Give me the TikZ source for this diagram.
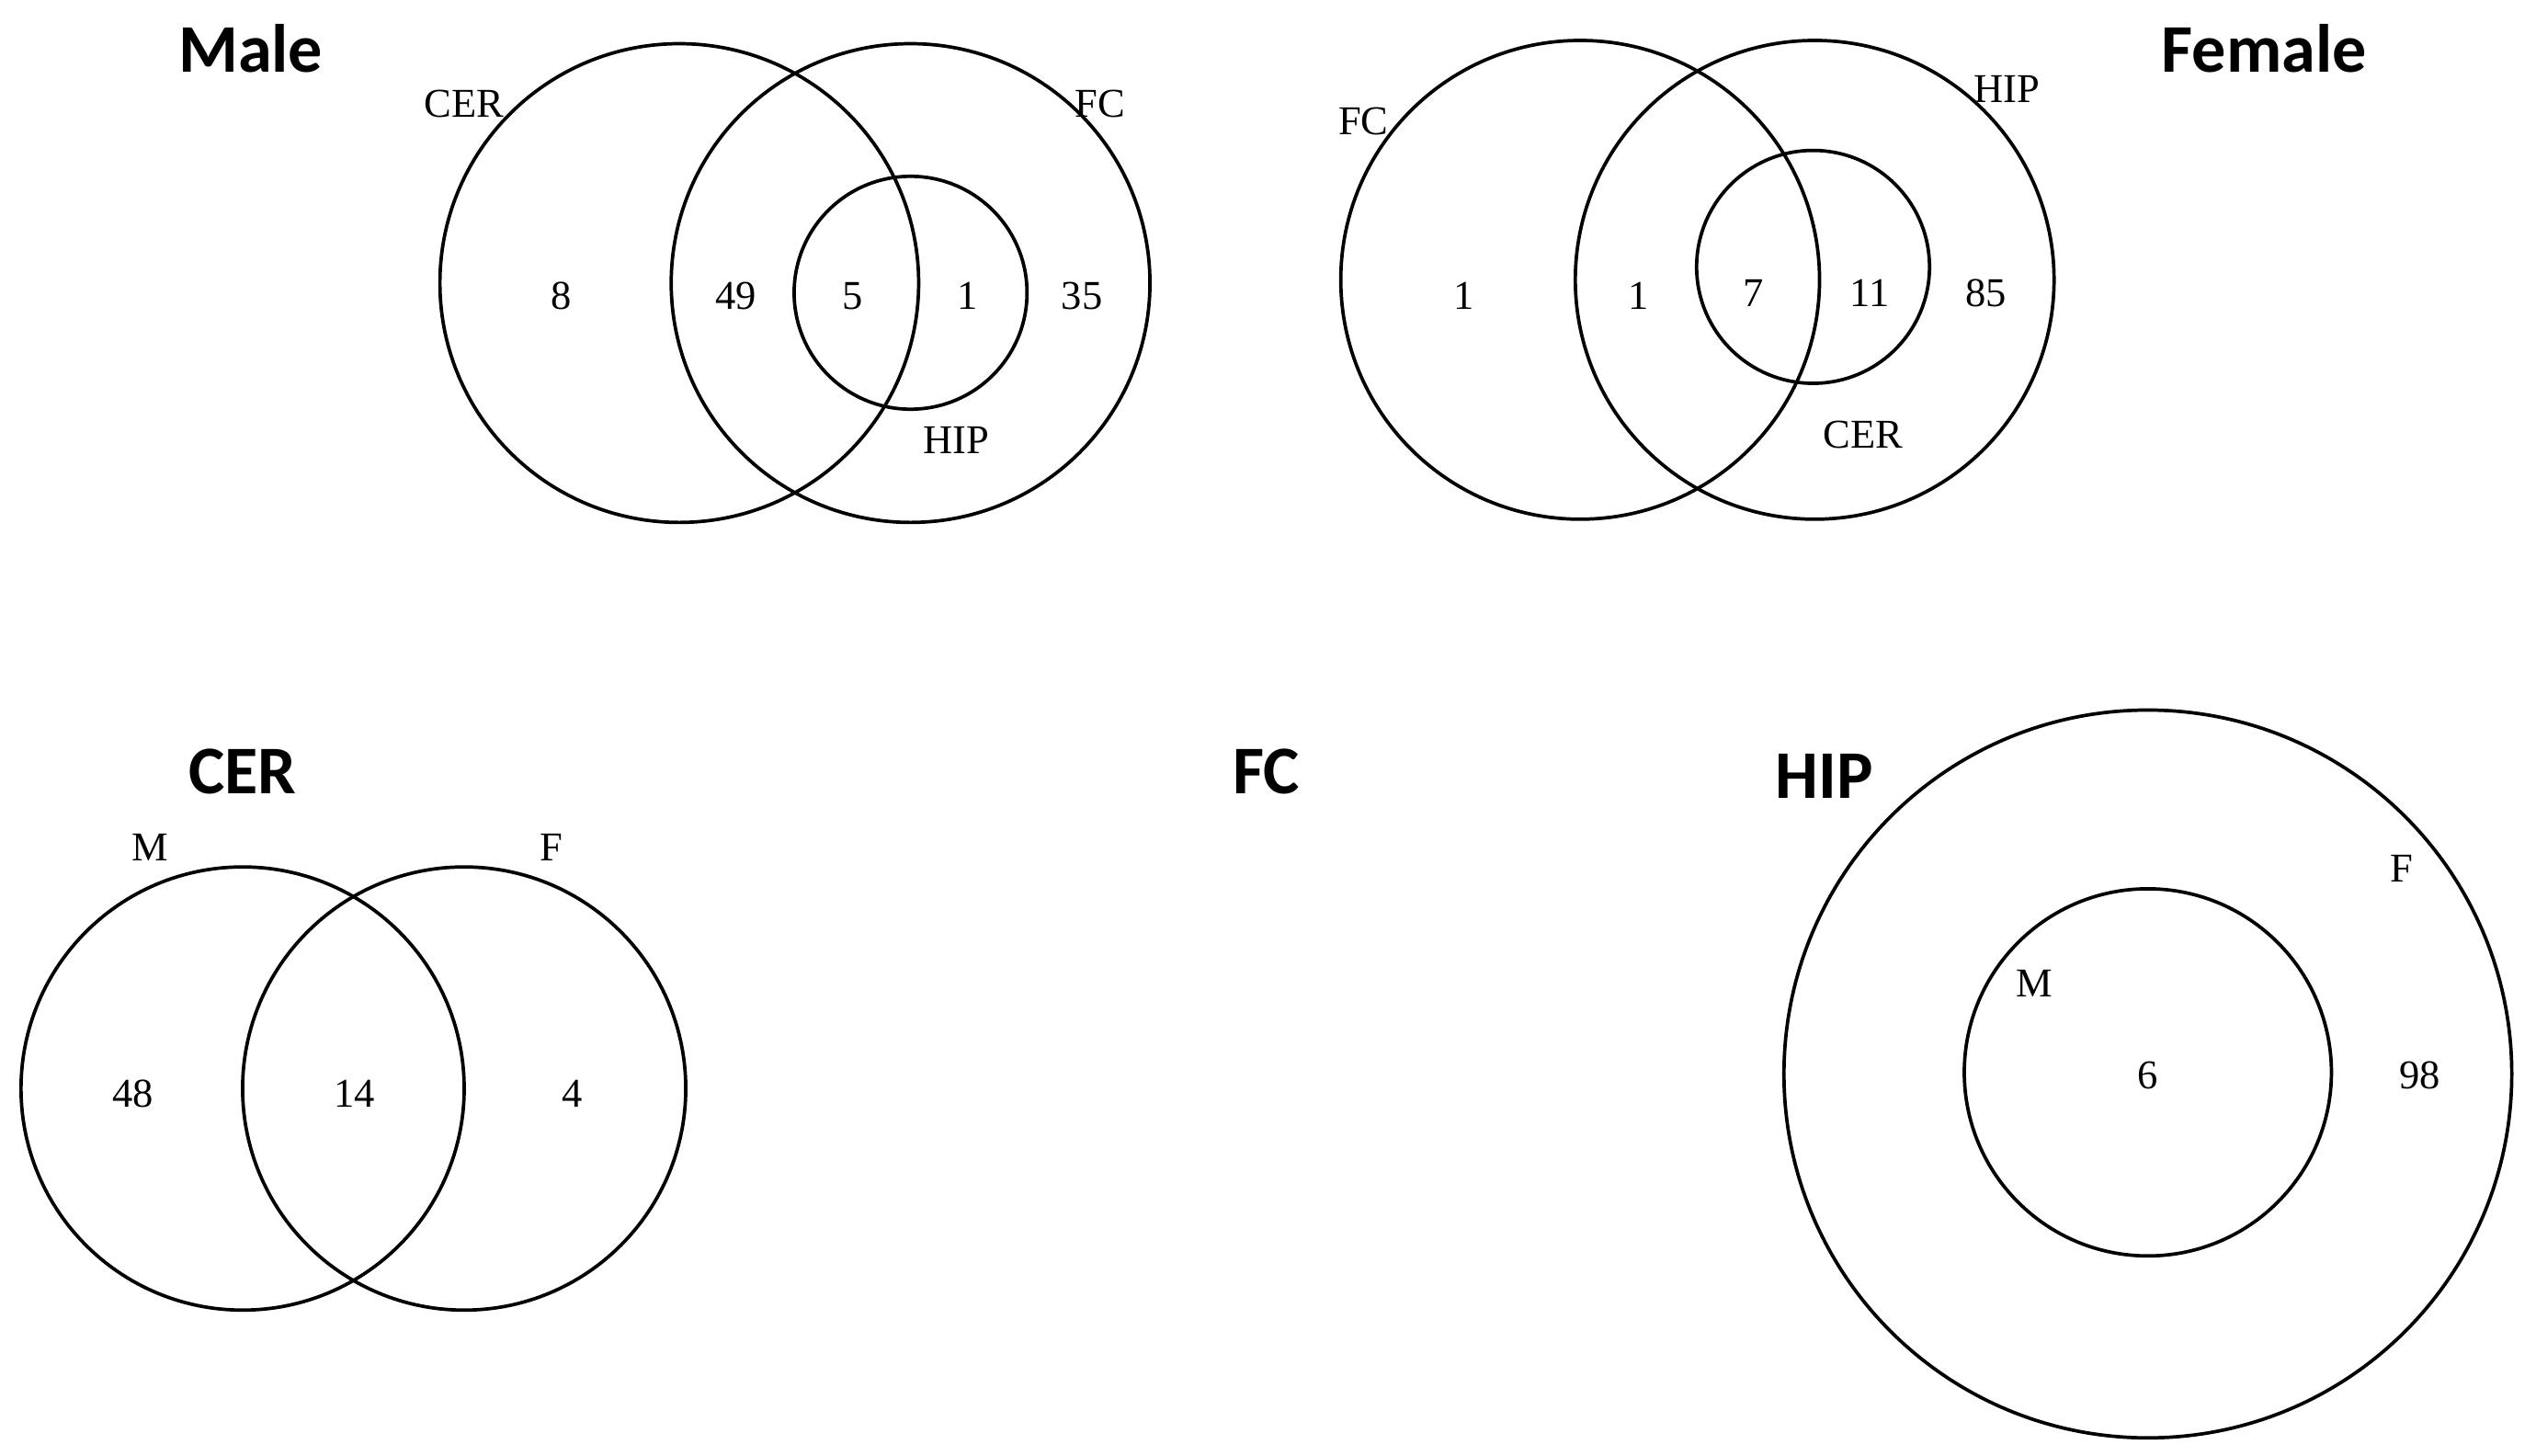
\documentclass[tikz,border=0pt]{standalone}
\usepackage{fontspec}
\setmainfont{Liberation Serif}
\newfontfamily\titlefont{Carlito}
\begin{document}
\begin{tikzpicture}[
  venn/.style={circle,draw,line width=0.6pt,inner sep=0pt},
  lbl/.style={font=\fontsize{7.2}{8}\selectfont,inner sep=0pt},
  ttl/.style={font=\titlefont\bfseries\fontsize{12}{14}\selectfont,inner sep=0pt}]
\useasboundingbox (0,0) rectangle (15.68,-9.00);
% Male
\node[ttl] (tm) at (1.55,-0.30) {Male};
\node[venn,minimum size=2.96cm] (mcer) at (4.20,-1.75) {};
\node[venn,minimum size=2.96cm] (mfc) at (5.63,-1.75) {};
\node[venn,minimum size=1.44cm] (mhip) at (5.63,-1.81) {};
\node[lbl] (l1) at (2.87,-0.64) {CER};
\node[lbl] (l2) at (6.80,-0.64) {FC};
\node[lbl] (l3) at (5.91,-2.72) {HIP};
\node[lbl] (n1) at (3.47,-1.83) {8};
\node[lbl] (n2) at (4.55,-1.83) {49};
\node[lbl] (n3) at (5.27,-1.83) {5};
\node[lbl] (n4) at (5.98,-1.83) {1};
\node[lbl] (n5) at (6.69,-1.83) {35};
% Female
\node[ttl] (tf) at (14.00,-0.30) {Female};
\node[venn,minimum size=2.96cm] (ffc) at (9.77,-1.73) {};
\node[venn,minimum size=2.96cm] (fhip) at (11.22,-1.73) {};
\node[venn,minimum size=1.44cm] (fcer) at (11.21,-1.65) {};
\node[lbl] (f1) at (8.43,-0.75) {FC};
\node[lbl] (f2) at (12.41,-0.55) {HIP};
\node[lbl] (f3) at (11.52,-2.69) {CER};
\node[lbl] (m1) at (9.05,-1.83) {1};
\node[lbl] (m2) at (10.13,-1.83) {1};
\node[lbl] (m3) at (10.84,-1.81) {7};
\node[lbl] (m4) at (11.56,-1.81) {11};
\node[lbl] (m5) at (12.28,-1.81) {85};
% CER
\node[ttl] (tc) at (1.50,-4.77) {CER};
\node[venn,minimum size=2.74cm] (cm) at (1.50,-6.73) {};
\node[venn,minimum size=2.74cm] (cf) at (2.87,-6.73) {};
\node[lbl] (c1) at (0.93,-5.24) {M};
\node[lbl] (c2) at (3.41,-5.24) {F};
\node[lbl] (c3) at (0.82,-6.76) {48};
\node[lbl] (c4) at (2.19,-6.76) {14};
\node[lbl] (c5) at (3.54,-6.76) {4};
% FC
\node[ttl] (tfc) at (7.83,-4.77) {FC};
% HIP
\node[ttl] (th) at (11.28,-4.80) {HIP};
\node[venn,minimum size=4.50cm] (hf) at (13.28,-6.64) {};
\node[venn,minimum size=2.27cm] (hm) at (13.28,-6.63) {};
\node[lbl] (h1) at (14.85,-5.37) {F};
\node[lbl] (h2) at (12.58,-6.08) {M};
\node[lbl] (h3) at (13.28,-6.65) {6};
\node[lbl] (h4) at (14.96,-6.65) {98};
\end{tikzpicture}
\end{document}
